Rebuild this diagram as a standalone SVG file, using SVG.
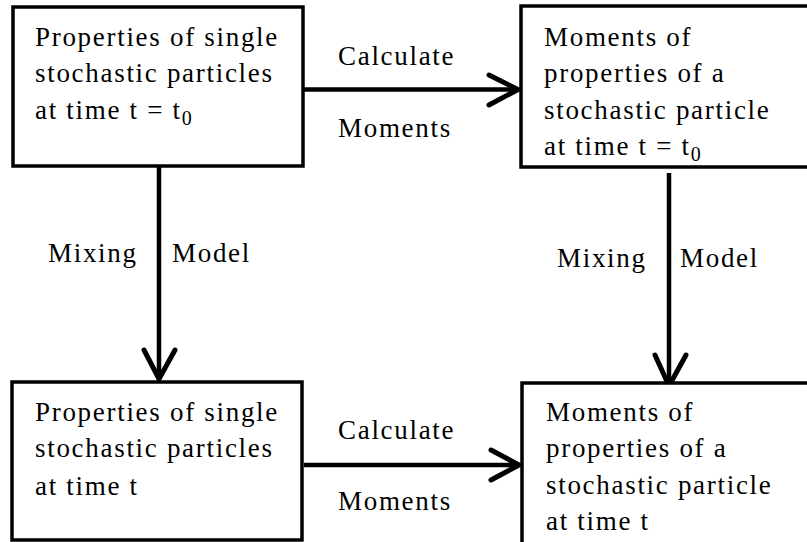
<svg xmlns="http://www.w3.org/2000/svg" width="807" height="542" viewBox="0 0 807 542">
<style>
.box{fill:#fff;stroke:#000;stroke-width:3.5}
.t{font-family:"Liberation Serif","Times New Roman",serif;font-size:27px;letter-spacing:1.7px;fill:#000}
.sub{font-size:20px}
.ln{stroke:#000;stroke-width:4.5;fill:none}
.ah{stroke:#000;stroke-width:5;fill:none;stroke-linejoin:miter;stroke-linecap:round}
</style>
<rect width="807" height="542" fill="#fff"/>
<g id="connectors">
<line class="ln" x1="303" y1="89.5" x2="518" y2="89.5"/>
<polyline class="ah" points="489,75 518,89.5 489,105"/>
<line class="ln" x1="304" y1="465" x2="519" y2="465"/>
<polyline class="ah" points="491,450 519,465 491,480"/>
<line class="ln" x1="159" y1="167" x2="159" y2="379"/>
<polyline class="ah" points="144,350 159,379 175,350"/>
<line class="ln" x1="669" y1="173" x2="669" y2="386"/>
<polyline class="ah" points="655,355 669,386 686,355"/>
<text class="t" x="338" y="65">Calculate</text>
<text class="t" x="338" y="137">Moments</text>
<text class="t" x="338" y="439">Calculate</text>
<text class="t" x="338" y="510">Moments</text>
<text class="t" x="48" y="262">Mixing</text>
<text class="t" x="172" y="262">Model</text>
<text class="t" x="557" y="267">Mixing</text>
<text class="t" x="680" y="267">Model</text>
</g>
<g id="n1">
<rect class="box" x="13" y="7" width="290" height="159"/>
<text class="t" x="35" y="46">Properties of single</text>
<text class="t" x="35" y="82">stochastic particles</text>
<text class="t" x="35" y="119">at time t = t<tspan class="sub" dy="6" letter-spacing="0">0</tspan></text>
</g>
<g id="n2">
<rect class="box" x="521" y="6" width="290" height="161"/>
<text class="t" x="544" y="46">Moments of</text>
<text class="t" x="544" y="82">properties of a</text>
<text class="t" x="544" y="119">stochastic particle</text>
<text class="t" x="544" y="155">at time t = t<tspan class="sub" dy="6" letter-spacing="0">0</tspan></text>
</g>
<g id="n3">
<rect class="box" x="12" y="382" width="290" height="158"/>
<text class="t" x="35" y="421">Properties of single</text>
<text class="t" x="35" y="457">stochastic particles</text>
<text class="t" x="35" y="495">at time t</text>
</g>
<g id="n4">
<rect class="box" x="522" y="383" width="290" height="165"/>
<text class="t" x="546" y="421">Moments of</text>
<text class="t" x="546" y="457">properties of a</text>
<text class="t" x="546" y="494">stochastic particle</text>
<text class="t" x="546" y="530">at time t</text>
</g>
</svg>
